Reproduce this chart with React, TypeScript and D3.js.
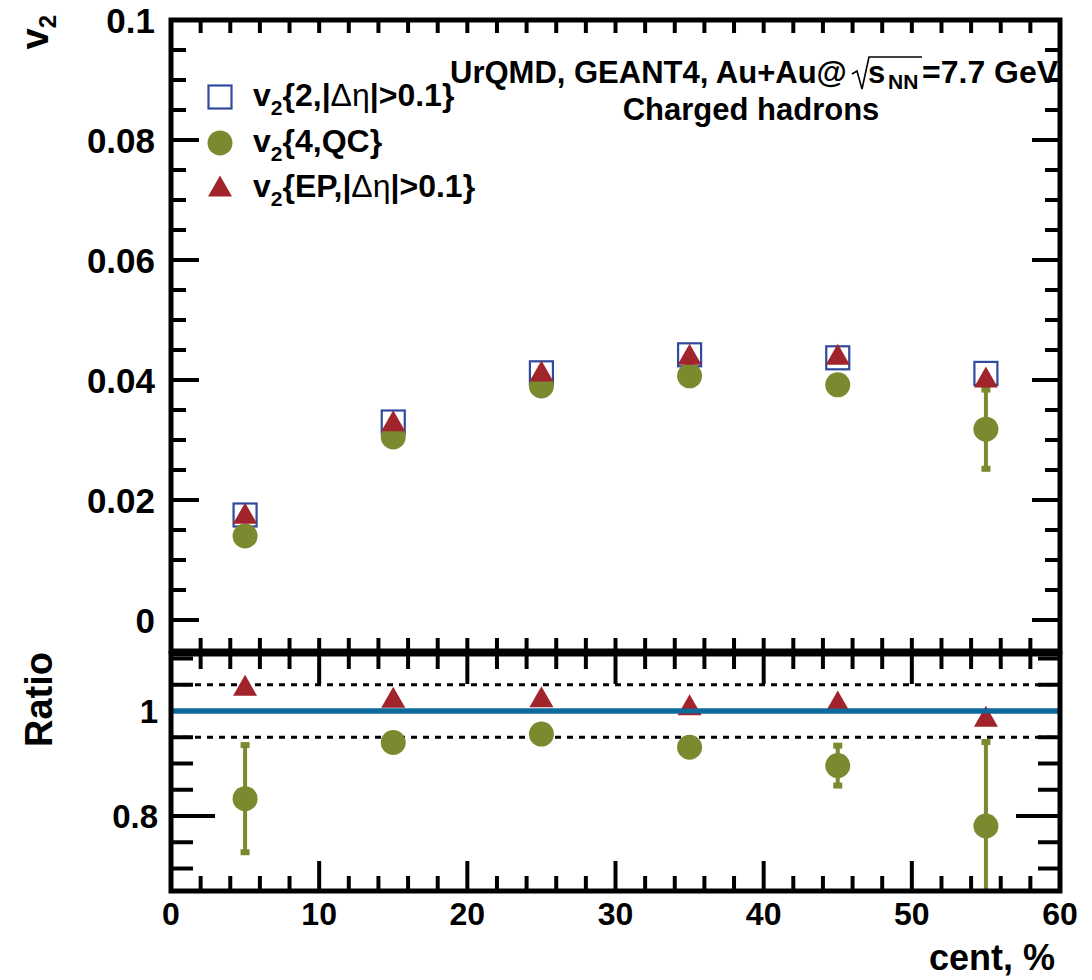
import React from 'react';
import * as d3 from 'd3';

// ---- data ----
const cent = [5, 15, 25, 35, 45, 55];
const v2Two = [0.0175, 0.033, 0.0412, 0.0442, 0.0437, 0.0411];
const v2Four = [0.014, 0.0305, 0.039, 0.0407, 0.0392, 0.0318];
const v2FourErr = [0.0011, 0.0004, 0.0004, 0.0005, 0.0011, 0.0066];
const v2EP = [0.0178, 0.0332, 0.0415, 0.0443, 0.0443, 0.0405];
const ratioFour = [0.833, 0.94, 0.956, 0.931, 0.896, 0.781];
const ratioFourErr = [0.102, 0.012, 0.012, 0.015, 0.038, 0.16];
const ratioEP = [1.049, 1.026, 1.027, 1.012, 1.019, 0.99];

const xTickLabels = [0, 10, 20, 30, 40, 50, 60];
const yTopTickLabels = [0, 0.02, 0.04, 0.06, 0.08, 0.1];
const yRatioTickLabels = [0.8, 1];
const ratioBands = [0.95, 1.05];

const FONT = '"Liberation Sans", Arial, Helvetica, sans-serif';
const C_SQ = '#2f4a9c';
const C_CIRC = '#7b8a2f';
const C_TRI = '#a1232b';
const C_LINE = '#0b6a9b';

const L = 171, R = 1060;
const TOP_T = 20, TOP_B = 651;
const RAT_T = 654, RAT_B = 891;

const x = d3.scaleLinear().domain([0, 60]).range([L, R]);
const yTop = d3.scaleLinear().domain([0, 0.1]).range([620, 20]);
const yRat = d3.scaleLinear().domain([0.8, 1.0]).range([816, 711]);

const xMinor = d3.range(0, 61, 2);
const yTopMinor = d3.range(0, 0.1001, 0.005);
const yRatMinor = d3.range(0.7, 1.1001, 0.05);

const fmtTop = (v: number) => (v === 0 ? '0' : v === 0.1 ? '0.1' : v.toFixed(2));
const fmtRat = (v: number) => (v === 1 ? '1' : v.toFixed(1));

function Square({ cx, cy }: { cx: number; cy: number }) {
  const s = 23;
  return <rect x={cx - s / 2} y={cy - s / 2} width={s} height={s} fill="none" stroke={C_SQ} strokeWidth={2.2} />;
}
function Circle({ cx, cy }: { cx: number; cy: number }) {
  return <circle cx={cx} cy={cy} r={12.5} fill={C_CIRC} />;
}
function Tri({ cx, cy }: { cx: number; cy: number }) {
  const w = 12, h = 10.5;
  return <path d={`M${cx - w},${cy + h}L${cx + w},${cy + h}L${cx},${cy - h}Z`} fill={C_TRI} />;
}
function ErrBar({ cx, y1, y2 }: { cx: number; y1: number; y2: number }) {
  return (
    <g fill={C_CIRC} stroke="none">
      <rect x={cx - 2} y={Math.min(y1, y2)} width={4} height={Math.abs(y2 - y1)} />
      <rect x={cx - 4.5} y={y1 - 3} width={9} height={6} />
      <rect x={cx - 4.5} y={y2 - 3} width={9} height={6} />
    </g>
  );
}

export default function App() {
  const isMajorX = (v: number) => v % 10 === 0;
  const isMajorYTop = (v: number) => Math.abs(v / 0.02 - Math.round(v / 0.02)) < 1e-6;
  const isMajorYRat = (v: number) => Math.abs(v / 0.2 - Math.round(v / 0.2)) < 1e-6;

  return (
    <svg width={1092} height={980} style={{ position: 'absolute', left: 0, top: 0, background: '#fff' }} fontFamily={FONT} fontWeight="bold">
      <defs>
        <clipPath id="clipRat">
          <rect x={L} y={RAT_T} width={R - L} height={RAT_B - RAT_T} />
        </clipPath>
        <clipPath id="clipTop">
          <rect x={L} y={TOP_T} width={R - L} height={TOP_B - TOP_T} />
        </clipPath>
      </defs>
      <rect x={0} y={0} width={1092} height={980} fill="#fff" />

      {/* ===== top panel ===== */}
      <g clipPath="url(#clipTop)">
        {cent.map((c, i) => (
          <Square key={'sq' + i} cx={x(c)} cy={yTop(v2Two[i])} />
        ))}
        {cent.map((c, i) => (
          <ErrBar key={'e4' + i} cx={x(c)} y1={yTop(v2Four[i] + v2FourErr[i])} y2={yTop(v2Four[i] - v2FourErr[i])} />
        ))}
        {cent.map((c, i) => (
          <Circle key={'c4' + i} cx={x(c)} cy={yTop(v2Four[i])} />
        ))}
        {cent.map((c, i) => (
          <Tri key={'tr' + i} cx={x(c)} cy={yTop(v2EP[i])} />
        ))}
      </g>

      {/* legend */}
      <Square cx={220} cy={97} />
      <Circle cx={220} cy={143} />
      <Tri cx={220} cy={186} />
      <g fontSize={32} fill="#000">
        <text x={253} y={106}>
          v<tspan fontSize={21} dy={9}>2</tspan>
          <tspan dy={-9}>{'{2,|'}</tspan>
          <tspan fontWeight="normal">Δη</tspan>
          <tspan>{'|>0.1}'}</tspan>
        </text>
        <text x={253} y={152}>
          v<tspan fontSize={21} dy={9}>2</tspan>
          <tspan dy={-9}>{'{4,QC}'}</tspan>
        </text>
        <text x={253} y={197}>
          v<tspan fontSize={21} dy={9}>2</tspan>
          <tspan dy={-9}>{'{EP,|'}</tspan>
          <tspan fontWeight="normal">Δη</tspan>
          <tspan>{'|>0.1}'}</tspan>
        </text>
      </g>

      {/* annotation */}
      <g fontSize={31} fill="#000">
        <text x={450} y={83}>UrQMD, GEANT4, Au+Au@</text>
        <path d="M852,74L857,71L862,89L869,57L922,57" fill="none" stroke="#000" strokeWidth={1.6} />
        <text x={868} y={83}>s</text>
        <text x={888} y={89} fontSize={21}>NN</text>
        <text x={922} y={83} fontSize={32}>=7.7 GeV</text>
        <text x={751} y={120} textAnchor="middle">Charged hadrons</text>
      </g>

      {/* top panel ticks */}
      <g stroke="#000" strokeWidth={4}>
        {xMinor.map((v) => (
          <g key={'tx' + v}>
            <line x1={x(v)} x2={x(v)} y1={TOP_T} y2={TOP_T + 13} />
            <line x1={x(v)} x2={x(v)} y1={TOP_B} y2={TOP_B - 13} />
          </g>
        ))}
        {yTopMinor.map((v) => {
          const len = isMajorYTop(v) ? 28 : 15;
          return (
            <g key={'ty' + v}>
              <line x1={L} x2={L + len} y1={yTop(v)} y2={yTop(v)} />
              <line x1={R} x2={R - len} y1={yTop(v)} y2={yTop(v)} />
            </g>
          );
        })}
      </g>
      <rect x={L} y={TOP_T} width={R - L} height={TOP_B - TOP_T} fill="none" stroke="#000" strokeWidth={5} />
      <g fontSize={35} fill="#000" textAnchor="end">
        {yTopTickLabels.map((v) => (
          <text key={'yl' + v} x={155} y={yTop(v) + 12.5}>
            {fmtTop(v)}
          </text>
        ))}
      </g>
      <text transform="translate(48,15) rotate(-90)" textAnchor="end" fontSize={38} fill="#000">
        v<tspan fontSize={24} dy={8}>2</tspan>
      </text>

      {/* ===== ratio panel ===== */}
      <g>
        <line x1={L} x2={R} y1={yRat(1)} y2={yRat(1)} stroke={C_LINE} strokeWidth={5} />
        {ratioBands.map((b) => (
          <line key={'b' + b} x1={L} x2={R} y1={yRat(b)} y2={yRat(b)} stroke="#000" strokeWidth={3} strokeDasharray="6,6" />
        ))}
      </g>
      <g clipPath="url(#clipRat)">
        {cent.map((c, i) => (
          <ErrBar key={'re' + i} cx={x(c)} y1={yRat(ratioFour[i] + ratioFourErr[i])} y2={yRat(ratioFour[i] - ratioFourErr[i])} />
        ))}
        {cent.map((c, i) => (
          <Circle key={'rc' + i} cx={x(c)} cy={yRat(ratioFour[i])} />
        ))}
        {cent.map((c, i) => (
          <Tri key={'rt' + i} cx={x(c)} cy={yRat(ratioEP[i])} />
        ))}
      </g>
      <g stroke="#000" strokeWidth={4}>
        {xMinor.map((v) => {
          const len = isMajorX(v) ? 30 : 15;
          return (
            <g key={'rx' + v}>
              <line x1={x(v)} x2={x(v)} y1={RAT_T} y2={RAT_T + len} />
              <line x1={x(v)} x2={x(v)} y1={RAT_B} y2={RAT_B - len} />
            </g>
          );
        })}
        {yRatMinor.map((v) => {
          const len = isMajorYRat(v) ? 44 : 22;
          return (
            <g key={'ry' + v}>
              <line x1={L} x2={L + len} y1={yRat(v)} y2={yRat(v)} />
              <line x1={R} x2={R - len} y1={yRat(v)} y2={yRat(v)} />
            </g>
          );
        })}
      </g>
      <line x1={L} x2={R} y1={yRat(1)} y2={yRat(1)} stroke={C_LINE} strokeWidth={5} />
      <rect x={L} y={RAT_T} width={R - L} height={RAT_B - RAT_T} fill="none" stroke="#000" strokeWidth={5} />
      <g fontSize={33} fill="#000" textAnchor="end">
        {yRatioTickLabels.map((v) => (
          <text key={'rl' + v} x={158} y={yRat(v) + 12}>
            {fmtRat(v)}
          </text>
        ))}
      </g>
      <text transform="translate(52,652) rotate(-90)" textAnchor="end" fontSize={38} fill="#000">
        Ratio
      </text>

      {/* x axis labels */}
      <g fontSize={32} fill="#000" textAnchor="middle">
        {xTickLabels.map((v) => (
          <text key={'xl' + v} x={x(v)} y={925}>
            {v}
          </text>
        ))}
      </g>
      <text x={1055} y={970} textAnchor="end" fontSize={36} fill="#000">
        cent, %
      </text>
    </svg>
  );
}
